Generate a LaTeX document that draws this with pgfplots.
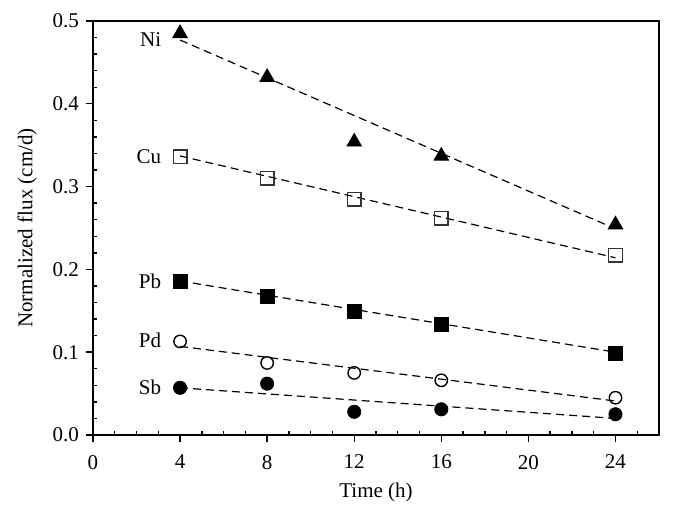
\documentclass[border=0pt]{standalone}
\usepackage{pgfplots}
\pgfplotsset{compat=1.18}
\usepackage{fontspec}
\setmainfont{Liberation Serif}

\begin{document}
\begin{tikzpicture}
\begin{axis}[
    scale only axis,
    width=283pt, height=207pt,
    xmin=0, xmax=26, ymin=0, ymax=0.5,
    xtick={0,4,...,24},
    minor xtick={1,2,3,5,6,7,9,10,11,13,14,15,17,18,19,21,22,23,25},
    ytick={0,0.1,0.2,0.3,0.4,0.5},
    minor ytick={0.02,0.04,0.06,0.08,0.12,0.14,0.16,0.18,0.22,0.24,0.26,0.28,0.32,0.34,0.36,0.38,0.42,0.44,0.46,0.48},
    yticklabel style={/pgf/number format/.cd, fixed, fixed zerofill, precision=1},
    xticklabel style={yshift=-3pt},
    /pgf/number format/assume math mode=true,
    tick align=outside,
    major tick length=3.5pt,
    minor tick length=-2pt,
    xtick pos=bottom, ytick pos=left,
    tick style={black, line width=0.7pt},
    axis line style={line width=0.8pt},
    tick label style={font=\fontsize{10.5}{12}\selectfont},
    label style={font=\fontsize{10.5}{12}\selectfont},
    xlabel={Time (h)},
    ylabel={Normalized flux (cm/d)},
    ylabel style={yshift=1pt},
    clip=false,
]
% fitted trend lines
\addplot[black, dashed, line width=0.6pt, dash pattern=on 4pt off 2.5pt] coordinates {(4,0.477) (24,0.249)};
\addplot[black, dashed, line width=0.6pt, dash pattern=on 4pt off 2.5pt] coordinates {(4,0.337) (24,0.214)};
\addplot[black, dashed, line width=0.6pt, dash pattern=on 4pt off 2.5pt] coordinates {(4,0.186) (24,0.100)};
\addplot[black, dashed, line width=0.6pt, dash pattern=on 4pt off 2.5pt] coordinates {(4,0.107) (24,0.041)};
\addplot[black, dashed, line width=0.6pt, dash pattern=on 4pt off 2.5pt] coordinates {(4,0.057) (24,0.020)};

% measured points
\addplot[only marks, mark=triangle*, mark size=4.2pt, black] coordinates {
  (4,0.485) (8,0.432) (12,0.354) (16,0.337) (24,0.254)};
\addplot[only marks, mark=square, mark size=3.4pt, black!80, mark options={line width=0.7pt, fill=white}] coordinates {
  (4,0.336) (8,0.310) (12,0.285) (16,0.262) (24,0.217)};
\addplot[only marks, mark=square*, mark size=3.5pt, black] coordinates {
  (4,0.185) (8,0.167) (12,0.149) (16,0.133) (24,0.099)};
\addplot[only marks, mark=o, mark size=3.1pt, black, mark options={line width=0.7pt, fill=white}] coordinates {
  (4,0.113) (8,0.087) (12,0.075) (16,0.066) (24,0.045)};
\addplot[only marks, mark=*, mark size=3.3pt, black] coordinates {
  (4,0.057) (8,0.062) (12,0.028) (16,0.031) (24,0.025)};

\node[anchor=east, inner sep=0pt, font=\fontsize{10.5}{12}\selectfont] at (axis cs:3.15,0.477) {Ni};
\node[anchor=east, inner sep=0pt, font=\fontsize{10.5}{12}\selectfont] at (axis cs:3.15,0.336) {Cu};
\node[anchor=east, inner sep=0pt, font=\fontsize{10.5}{12}\selectfont] at (axis cs:3.15,0.186) {Pb};
\node[anchor=east, inner sep=0pt, font=\fontsize{10.5}{12}\selectfont] at (axis cs:3.15,0.114) {Pd};
\node[anchor=east, inner sep=0pt, font=\fontsize{10.5}{12}\selectfont] at (axis cs:3.15,0.058) {Sb};
\end{axis}
\path ([shift={(-46.5pt,-39.5pt)}]current axis.south west) rectangle ([shift={(7.5pt,10.5pt)}]current axis.north east);
\end{tikzpicture}
\end{document}
